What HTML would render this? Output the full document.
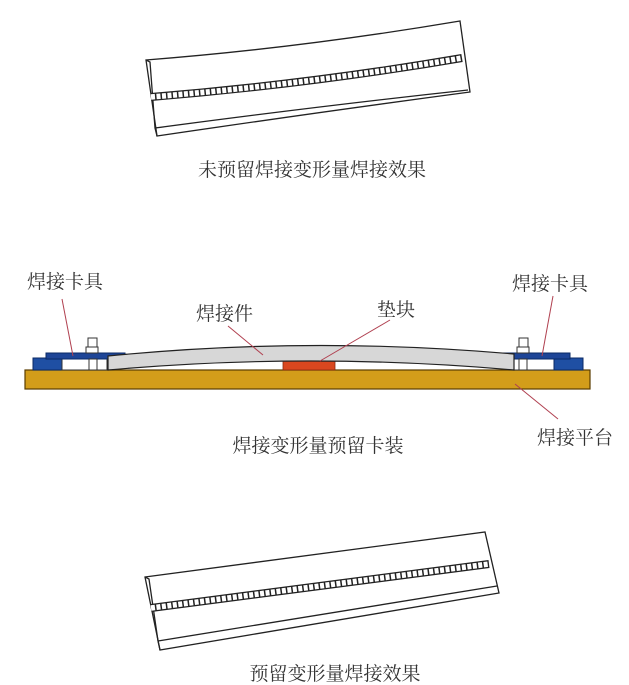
<!DOCTYPE html>
<html><head><meta charset="utf-8"><style>
html,body{margin:0;padding:0;background:#fff;}
svg{display:block;}
text{font-family:"Liberation Serif","Noto Serif CJK SC",serif;fill:#333;}
</style></head><body>
<svg width="629" height="685" viewBox="0 0 629 685" xmlns="http://www.w3.org/2000/svg">
<g stroke="#222" stroke-width="1.3" fill="#fff">
<path d="M146,60 Q300,48 460,21 L470,92 Q320,112 157,136 Z"/>
<path d="M155,128 Q320,106 468,90" fill="none"/>
<path d="M146,60 L150,62 L155,128 L157,136" fill="none"/>
</g>
<path d="M151,97 Q310,84 462,58" fill="none" stroke="#222" stroke-width="8"/>
<path d="M151,97 Q310,84 462,58" fill="none" stroke="#fff" stroke-width="5.5" stroke-dasharray="4 1.5"/>
<text x="312" y="176" font-size="19" text-anchor="middle">未预留焊接变形量焊接效果</text>

<rect x="25" y="370" width="565" height="19" fill="#d39d1a" stroke="#5a3d00" stroke-width="1.2"/>
<rect x="33" y="358" width="29" height="12" fill="#1f4fa3" stroke="#0b2a66" stroke-width="1"/>
<rect x="62" y="358" width="45" height="12" fill="#fff" stroke="#333" stroke-width="1"/>
<rect x="46" y="353" width="79" height="6" fill="#1e4597" stroke="#0b2a66" stroke-width="1"/>
<rect x="88" y="338" width="9" height="9" fill="#fff" stroke="#333"/>
<rect x="86" y="347" width="12" height="6" fill="#fff" stroke="#333"/>
<rect x="89" y="359" width="8" height="11" fill="#fff" stroke="#333"/>
<rect x="514" y="358" width="41" height="12" fill="#fff" stroke="#333" stroke-width="1"/>
<rect x="554" y="358" width="29" height="12" fill="#1f4fa3" stroke="#0b2a66" stroke-width="1"/>
<rect x="490" y="353" width="80" height="6" fill="#1e4597" stroke="#0b2a66" stroke-width="1"/>
<rect x="519" y="338" width="9" height="9" fill="#fff" stroke="#333"/>
<rect x="517" y="347" width="12" height="6" fill="#fff" stroke="#333"/>
<rect x="519" y="359" width="8" height="11" fill="#fff" stroke="#333"/>
<rect x="283" y="360" width="52" height="10" fill="#d9471f" stroke="#8a2a10" stroke-width="0.8"/>
<path d="M108,356 Q310,336 514,354 L514,370 Q310,352 108,370 Z" fill="#d7d7d7" stroke="#222" stroke-width="1.2"/>
<g stroke="#b04050" stroke-width="1">
<line x1="62" y1="299" x2="73" y2="356"/>
<line x1="228" y1="326" x2="263" y2="355"/>
<line x1="390" y1="320" x2="320" y2="361"/>
<line x1="553" y1="296" x2="542" y2="356"/>
<line x1="515" y1="384" x2="558" y2="419"/>
</g>
<g font-size="19">
<text x="27" y="288">焊接卡具</text>
<text x="196" y="320">焊接件</text>
<text x="377" y="316">垫块</text>
<text x="512" y="290">焊接卡具</text>
<text x="537" y="444">焊接平台</text>
<text x="318" y="452" text-anchor="middle">焊接变形量预留卡装</text>
</g>

<g stroke="#222" stroke-width="1.3" fill="#fff">
<path d="M145,577 L485,532 L499,593 L160,650 Z"/>
<path d="M158,641 L497,586" fill="none"/>
<path d="M145,577 L149,579 L158,641 L160,650" fill="none"/>
</g>
<path d="M151,608 L489,564" fill="none" stroke="#222" stroke-width="8"/>
<path d="M151,608 L489,564" fill="none" stroke="#fff" stroke-width="5.5" stroke-dasharray="4 1.5"/>
<text x="335" y="680" font-size="19" text-anchor="middle">预留变形量焊接效果</text>
</svg>
</body></html>
